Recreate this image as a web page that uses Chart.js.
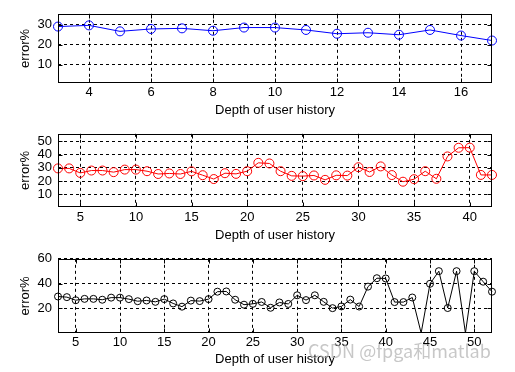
<!DOCTYPE html>
<html>
<head>
<meta charset="utf-8">
<script src="https://cdn.jsdelivr.net/npm/chart.js@4.4.1/dist/chart.umd.min.js"></script>
<style>
    html, body { margin: 0; padding: 0; background: #fff; }
    #wrap { position: relative; width: 515px; height: 372px; overflow: hidden; }
    canvas { position: absolute; left: 0; }
    #mark {
        position: absolute; left: 308px; top: 341px;
        font: 18px "Noto Sans CJK SC", sans-serif; line-height: 18px;
        color: rgba(175, 175, 175, 0.7); white-space: nowrap;
    }
</style>
</head>
<body>
<div id="wrap">
    <canvas id="plot1" width="515" height="120" style="top:0px"></canvas>
    <canvas id="plot2" width="515" height="125" style="top:120px"></canvas>
    <canvas id="plot3" width="515" height="127" style="top:245px"></canvas>
    <div id="mark">CSDN @fpga和matlab</div>
</div>
<script>
// depth of user history (x) and error% (y) for the three panels
const depth1 = [3, 4, 5, 6, 7, 8, 9, 10, 11, 12, 13, 14, 15, 16, 17];
const error1 = [29.1, 29.7, 26.7, 27.9, 28.2, 27.0, 28.6, 28.6, 27.4, 25.5, 26.0, 25.0, 27.4, 24.6, 22.1];

const depth2 = [3, 4, 5, 6, 7, 8, 9, 10, 11, 12, 13, 14, 15, 16, 17, 18, 19, 20, 21, 22,
                23, 24, 25, 26, 27, 28, 29, 30, 31, 32, 33, 34, 35, 36, 37, 38, 39, 40, 41, 42];
const error2 = [29.6, 29.6, 26.2, 28.0, 28.0, 26.8, 28.7, 28.7, 27.5, 25.4, 25.8, 25.4, 27.4, 24.5, 21.6, 26.0, 25.5, 27.5, 33.8, 33.3,
                27.5, 24.0, 23.8, 24.3, 21.0, 24.4, 24.2, 30.5, 26.9, 31.1, 24.6, 19.6, 21.5, 27.5, 21.8, 38.6, 45.1, 45.2, 24.7, 24.7];

const depth3 = [3, 4, 5, 6, 7, 8, 9, 10, 11, 12, 13, 14, 15, 16, 17, 18, 19, 20, 21, 22,
                23, 24, 25, 26, 27, 28, 29, 30, 31, 32, 33, 34, 35, 36, 37, 38, 39, 40, 41, 42,
                43, 44, 45, 46, 47, 48, 49, 50, 51, 52];
const error3 = [29.5, 29.0, 26.5, 27.6, 27.6, 26.9, 28.6, 28.6, 27.4, 25.7, 26.3, 25.2, 27.4, 23.9, 21.3, 26.2, 25.8, 27.4, 33.4, 33.6,
                26.9, 22.9, 23.6, 25.1, 20.4, 24.7, 23.5, 30.5, 26.6, 30.5, 25.2, 20.1, 21.5, 27.0, 21.4, 37.5, 44.3, 44.1, 25.0, 25.0,
                28.7, 0, 39.8, 50.0, 20.2, 50.0, 0, 50.0, 41.5, 33.4];

// tick labels
const xTicks1 = [4, 6, 8, 10, 12, 14, 16];
const yTicks1 = [10, 20, 30];
const xTicks2 = [5, 10, 15, 20, 25, 30, 35, 40];
const yTicks2 = [10, 20, 30, 40, 50];
const xTicks3 = [5, 10, 15, 20, 25, 30, 35, 40, 45, 50];
const yTicks3 = [20, 40, 60];

const font = { family: "'Liberation Sans', Arial, sans-serif", size: 13, lineHeight: 1.2 };

// matlab style box with inward tick marks
const boxPlugin = {
    id: "box",
    afterDraw(chart) {
        const { ctx, chartArea: a, scales } = chart;
        const l = Math.round(a.left) + 0.5, r = Math.round(a.right) - 0.5;
        const t = Math.round(a.top) + 0.5, b = Math.round(a.bottom) - 0.5;
        ctx.save();
        ctx.strokeStyle = "#000";
        ctx.lineWidth = 1;
        ctx.setLineDash([]);
        ctx.strokeRect(l, t, r - l, b - t);
        ctx.beginPath();
        scales.x.ticks.forEach(tk => {
            const px = Math.round(scales.x.getPixelForValue(tk.value)) + 0.5;
            ctx.moveTo(px, b); ctx.lineTo(px, b - 4);
            ctx.moveTo(px, t); ctx.lineTo(px, t + 4);
        });
        scales.y.ticks.forEach(tk => {
            const py = Math.round(scales.y.getPixelForValue(tk.value)) + 0.5;
            ctx.moveTo(l, py); ctx.lineTo(l + 4, py);
            ctx.moveTo(r, py); ctx.lineTo(r - 4, py);
        });
        ctx.stroke();
        ctx.restore();
    }
};

function makePlot(id, depth, errors, color, radius, yMin, yMax, xTicks, yTicks, box) {
    new Chart(document.getElementById(id), {
        type: "line",
        data: {
            datasets: [{
                data: depth.map((d, i) => ({ x: d, y: errors[i] })),
                borderColor: color,
                borderWidth: 1,
                backgroundColor: "rgba(0,0,0,0)",
                pointRadius: c => (c.raw && c.raw.y === 0 ? 0 : radius),
                pointBorderColor: color,
                pointBorderWidth: 1,
                pointBackgroundColor: "rgba(0,0,0,0)",
                tension: 0,
                clip: false
            }]
        },
        options: {
            responsive: false,
            animation: false,
            layout: { padding: { top: box.top, right: 23, left: 0, bottom: 0 } },
            plugins: { legend: { display: false }, tooltip: { enabled: false } },
            scales: {
                x: {
                    type: "linear",
                    min: depth[0],
                    max: depth[depth.length - 1],
                    afterBuildTicks: ax => { ax.ticks = xTicks.map(v => ({ value: v })); },
                    afterFit: ax => { ax.height = box.xh; },
                    grid: { color: "#000", lineWidth: 1, drawTicks: false },
                    border: { display: false, dash: [3, 3] },
                    ticks: { color: "#000", font: font, padding: box.tickPad, maxRotation: 0, autoSkip: false },
                    title: {
                        display: true, text: "Depth of user history", color: "#000", font: font,
                        padding: { top: 0, bottom: box.titlePad }
                    }
                },
                y: {
                    min: yMin,
                    max: yMax,
                    afterBuildTicks: ax => { ax.ticks = yTicks.map(v => ({ value: v })); },
                    afterFit: ax => { ax.width = 58; },
                    grid: { color: "#000", lineWidth: 1, drawTicks: false },
                    border: { display: false, dash: [3, 3] },
                    ticks: { color: "#000", font: font, padding: 6, autoSkip: false },
                    title: {
                        display: true, text: "error%", color: "#000", font: font,
                        padding: { top: 17.2, bottom: 0 }
                    }
                }
            }
        },
        plugins: [boxPlugin]
    });
}

makePlot("plot1", depth1, error1, "#0000ff", 4.5, 0.8, 35.5, xTicks1, yTicks1, { top: 7, xh: 37, tickPad: 2.0, titlePad: 1.7 });
makePlot("plot2", depth2, error2, "#ff0000", 4.5, 0.6, 55.6, xTicks2, yTicks2, { top: 7, xh: 38, tickPad: 3.0, titlePad: 2.0 });
makePlot("plot3", depth3, error3, "#000000", 3.5, 0, 60, xTicks3, yTicks3, { top: 12, xh: 39, tickPad: 2.0, titlePad: 4.9 });
</script>
</body>
</html>
